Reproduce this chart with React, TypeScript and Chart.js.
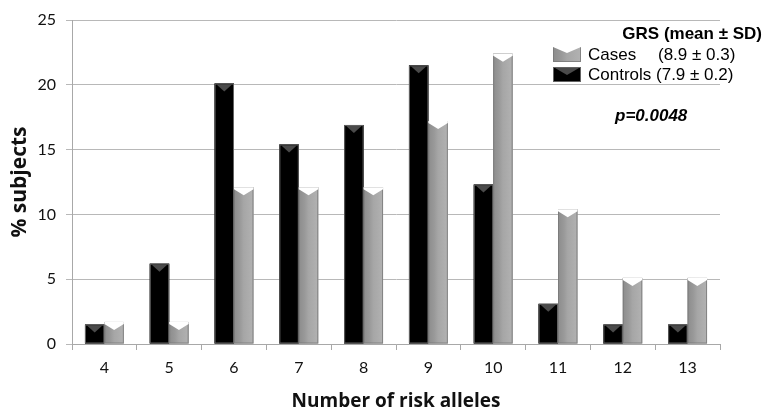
import React, { useEffect, useRef } from "react";
import { Chart, registerables } from "chart.js";

Chart.register(...registerables);

const categories = ["4", "5", "6", "7", "8", "9", "10", "11", "12", "13"];
const controls = [1.5, 6.2, 20.1, 15.4, 16.9, 21.5, 12.3, 3.1, 1.5, 1.5];
const cases = [1.7, 1.7, 12.1, 12.1, 12.1, 17.2, 22.4, 10.4, 5.1, 5.1];
const yTicks = [0, 5, 10, 15, 20, 25];
const legendTitle = "GRS (mean \u00b1 SD)";
const legendItems = [
  { name: "Cases", stat: "(8.9 \u00b1 0.3)" },
  { name: "Controls", stat: "(7.9 \u00b1 0.2)" },
];
const pValueText = "p=0.0048";

const AXIS_FONT = "Lato, 'Open Sans', sans-serif";
const TITLE_FONT = "'Open Sans', Lato, sans-serif";
const LEG_FONT = "'Liberation Sans', Arial, sans-serif";

function drawGrayBar(ctx: CanvasRenderingContext2D, l: number, t: number, w: number, b: number) {
  const g = ctx.createLinearGradient(l, 0, l + w, 0);
  g.addColorStop(0, "#8c8c8c");
  g.addColorStop(0.3, "#999999");
  g.addColorStop(0.5, "#a6a6a6");
  g.addColorStop(1, "#b2b2b2");
  ctx.fillStyle = g;
  ctx.fillRect(l, t, w, b - t);
  ctx.strokeStyle = "rgba(120,120,120,0.8)";
  ctx.lineWidth = 1;
  ctx.strokeRect(l + 0.5, t + 0.5, w - 1, b - t - 1);
  const capH = Math.min(8, (b - t) * 0.6);
  ctx.fillStyle = "#ffffff";
  ctx.beginPath();
  ctx.moveTo(l, t);
  ctx.lineTo(l + w, t);
  ctx.lineTo(l + w, t + 2);
  ctx.lineTo(l + w / 2, t + capH);
  ctx.lineTo(l, t + 2);
  ctx.closePath();
  ctx.fill();
}

function drawBlackBar(ctx: CanvasRenderingContext2D, l: number, t: number, w: number, b: number) {
  ctx.fillStyle = "#000000";
  ctx.fillRect(l, t, w, b - t);
  ctx.strokeStyle = "rgba(110,110,110,0.9)";
  ctx.lineWidth = 1;
  ctx.strokeRect(l + 0.5, t + 0.5, w - 1, b - t - 1);
  const capH = Math.min(8, (b - t) * 0.6);
  ctx.fillStyle = "#4a4a4a";
  ctx.beginPath();
  ctx.moveTo(l + 2, t + 1);
  ctx.lineTo(l + w - 2, t + 1);
  ctx.lineTo(l + w / 2, t + capH);
  ctx.closePath();
  ctx.fill();
}

const barStylePlugin = {
  id: "barStyle",
  afterDatasetsDraw(chart: any) {
    const ctx = chart.ctx as CanvasRenderingContext2D;
    ctx.save();
    chart.data.datasets.forEach((ds: any, di: number) => {
      const meta = chart.getDatasetMeta(di);
      meta.data.forEach((el: any) => {
        const { x, y, base, width } = el.getProps(["x", "y", "base", "width"], true);
        const l = x - width / 2;
        if (di === 0) drawBlackBar(ctx, l, y, width, base);
        else drawGrayBar(ctx, l, y, width, base);
      });
    });
    ctx.restore();
  },
  afterDraw(chart: any) {
    const ctx = chart.ctx as CanvasRenderingContext2D;
    ctx.save();
    ctx.fillStyle = "#000";
    ctx.textBaseline = "middle";
    ctx.font = `bold 17px ${LEG_FONT}`;
    ctx.textAlign = "right";
    ctx.fillText(legendTitle, 762, 34);
    ctx.textAlign = "left";
    ctx.font = `17px ${LEG_FONT}`;
    drawGrayBar(ctx, 553, 45, 28, 62);
    ctx.fillStyle = "#000";
    ctx.fillText(legendItems[0].name, 588, 55);
    ctx.fillText(legendItems[0].stat, 658, 55);
    drawBlackBar(ctx, 553, 67, 28, 82);
    ctx.fillStyle = "#000";
    ctx.fillText(legendItems[1].name + " " + legendItems[1].stat, 588, 75);
    ctx.font = `italic bold 17px ${LEG_FONT}`;
    ctx.fillText(pValueText, 615, 116);
    ctx.restore();
  },
};

export default function App() {
  const ref = useRef<HTMLCanvasElement | null>(null);
  useEffect(() => {
    document.body.style.margin = "0";
    if (!ref.current) return;
    const chart = new Chart(ref.current, {
      type: "bar",
      data: {
        labels: categories,
        datasets: [
          { label: "Controls", data: controls, backgroundColor: "#000", borderWidth: 0 },
          { label: "Cases", data: cases, backgroundColor: "#a6a6a6", borderWidth: 0 },
        ],
      },
      options: {
        animation: false,
        responsive: false,
        layout: { padding: { left: 0, right: 43, top: 20, bottom: 0 } },
        datasets: { bar: { categoryPercentage: 0.6, barPercentage: 1.0 } },
        plugins: { legend: { display: false }, tooltip: { enabled: false } },
        scales: {
          x: {
            afterFit: (s: any) => { s.height = 67; },
            grid: { offset: true, drawOnChartArea: false, drawTicks: true, tickLength: 6, color: "#a8a8a8" },
            border: { color: "#a8a8a8" },
            ticks: { color: "#111", font: { family: AXIS_FONT, size: 16 }, padding: 8 },
            title: { display: true, text: "Number of risk alleles", color: "#111", font: { family: TITLE_FONT, size: 19, weight: "bold", lineHeight: 1.0 }, padding: { top: 0, bottom: 0 } },
          },
          y: {
            min: 0,
            max: 25,
            afterFit: (s: any) => { s.width = 72; },
            afterBuildTicks: (s: any) => { s.ticks = yTicks.map((v) => ({ value: v })); },
            grid: { color: "#b8b8b8", tickLength: 6, drawTicks: true },
            border: { color: "#a8a8a8" },
            ticks: { color: "#111", font: { family: AXIS_FONT, size: 16 }, padding: 10 },
            title: { display: true, text: "% subjects", color: "#111", font: { family: TITLE_FONT, size: 21, weight: "bold", lineHeight: 1.0 }, padding: { top: 10, bottom: 0 } },
          },
        },
      },
      plugins: [barStylePlugin],
    });
    return () => chart.destroy();
  }, []);
  return (
    <div style={{ width: 763, height: 411 }}>
      <canvas ref={ref} width={763} height={411} style={{ width: 763, height: 411, display: "block" }} />
    </div>
  );
}
